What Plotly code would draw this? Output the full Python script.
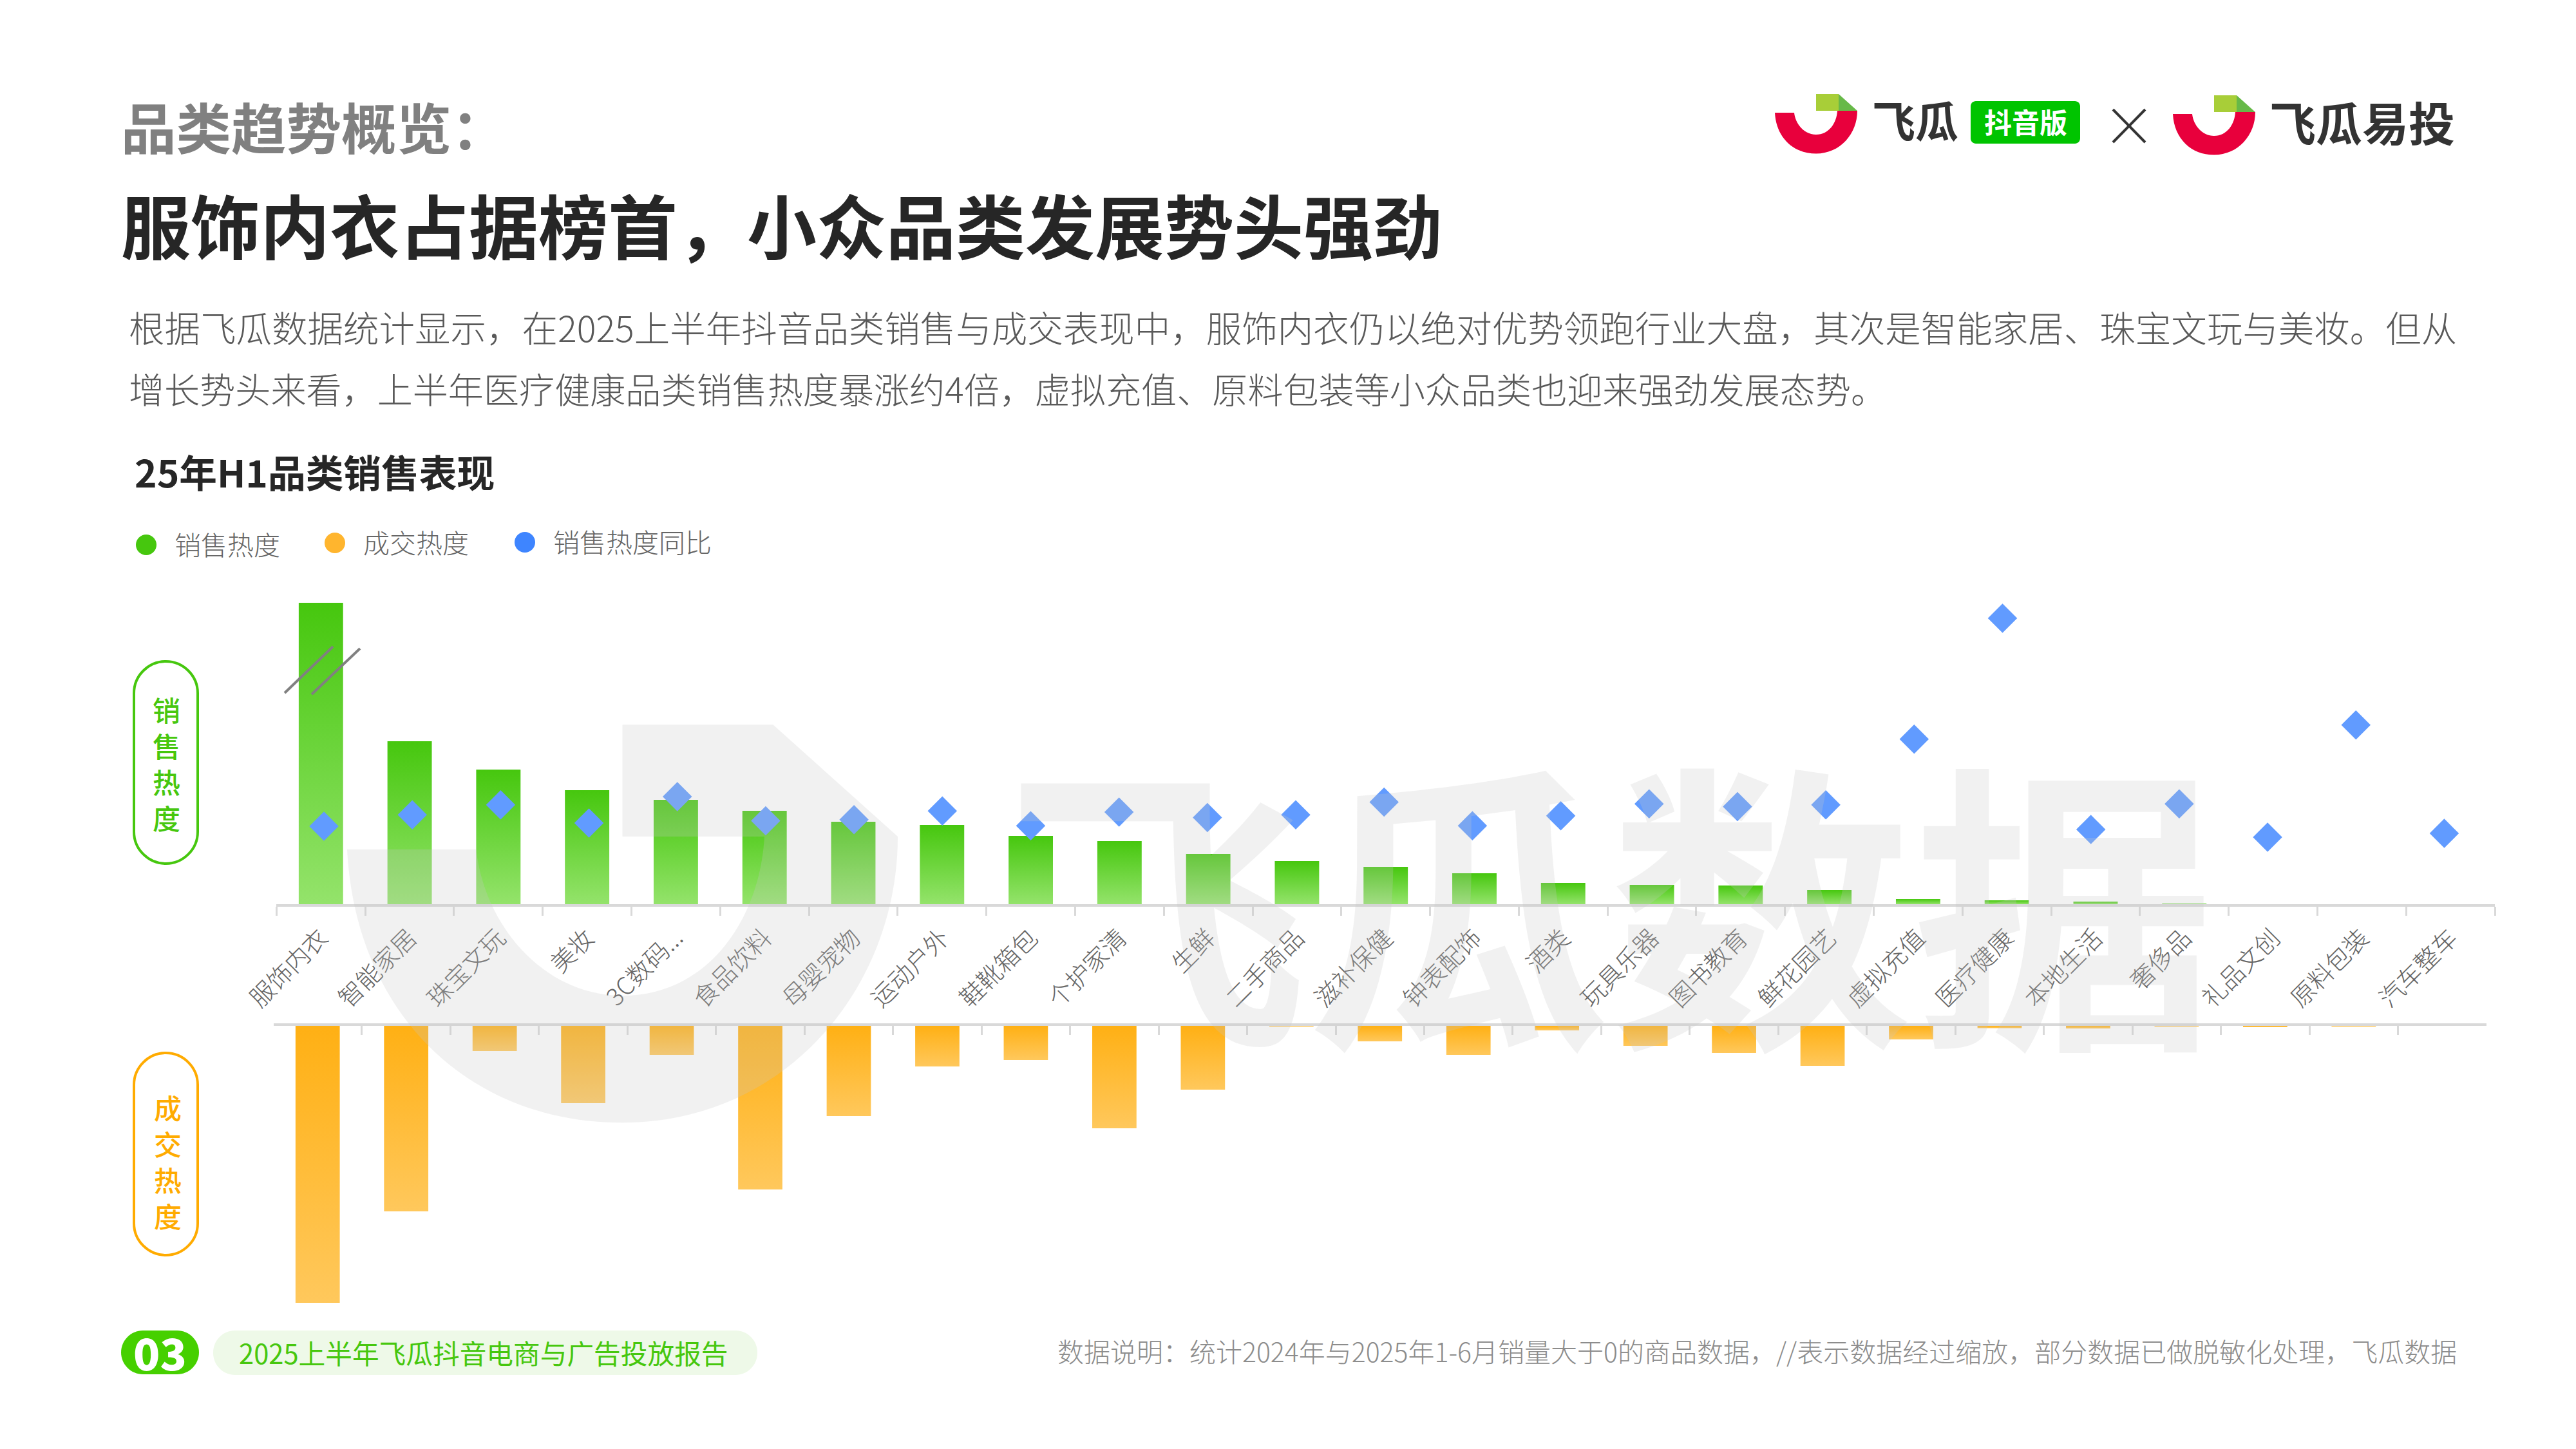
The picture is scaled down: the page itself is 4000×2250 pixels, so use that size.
import plotly.graph_objects as go

W, H = 4000, 2250
FONT = "Noto Sans CJK SC"

categories = ["服饰内衣", "智能家居", "珠宝文玩", "美妆", "3C数码...", "食品饮料", "母婴宠物", "运动户外", "鞋靴箱包",
              "个护家清", "生鲜", "二手商品", "滋补保健", "钟表配饰", "酒类", "玩具乐器", "图书教育", "鲜花园艺",
              "虚拟充值", "医疗健康", "本地生活", "奢侈品", "礼品文创", "原料包装", "汽车整车"]
sales_heat = [468, 253, 209, 177, 162, 145, 128, 123, 106, 98, 78, 67, 58, 48, 33, 30, 29, 22, 8, 6, 4, 1, 0, 0, 0]
deal_heat = [430, 288, 39, 120, 45, 254, 140, 63, 53, 159, 99, 1, 24, 45, 7, 31, 42, 62, 21, 3.5, 4, 0.3, 1.5, 0.7, 0]
sales_yoy = [20, 41, 59, 26, 74, 30, 32, 48, 21, 46, 36, 41, 64, 21, 39, 61, 56, 59, 179, 400, 14, 61, 0, 205, 7]

GREEN, ORANGE, BLUE = "#46C70E", "#FFB014", "#619BFF"


def fx(p):
    return p / W


def fy(p):
    return 1 - p / H


def dom_x(a, b):
    return [a / W, b / W]


def dom_y(top, bottom):
    return [1 - bottom / H, 1 - top / H]


fig = go.Figure()
fig.add_bar(x=categories, y=sales_heat, width=0.5, marker=dict(color=GREEN, line=dict(width=0)),
            xaxis="x", yaxis="y", name="销售热度")
fig.add_bar(x=categories, y=deal_heat, width=0.5, marker=dict(color=ORANGE, line=dict(width=0)),
            xaxis="x2", yaxis="y2", name="成交热度")
fig.add_scatter(x=categories, y=sales_yoy, mode="markers", cliponaxis=False,
                marker=dict(symbol="diamond", size=35, color=BLUE, line=dict(width=0)),
                xaxis="x3", yaxis="y3", name="销售热度同比")

ann = []


def text(s, x, y, size, color, weight=400, anchor="left"):
    ann.append(dict(text=s, xref="paper", yref="paper", x=fx(x), y=fy(y), xanchor=anchor, yanchor="middle",
                    showarrow=False, borderpad=0,
                    font=dict(family=FONT, size=size, color=color, weight=weight)))


shapes = []


def path(points_cmds, fill, line=None, lw=0, layer="above"):
    shapes.append(dict(type="path", xref="paper", yref="paper", path=points_cmds, fillcolor=fill,
                       line=dict(color=line or "rgba(0,0,0,0)", width=lw), layer=layer))


def seq(cmds):
    out = []
    for c in cmds:
        op = c[0]
        coords = c[1:]
        pts = " ".join(f"{fx(coords[i]):.5f},{fy(coords[i + 1]):.5f}" for i in range(0, len(coords), 2))
        out.append(op + " " + pts if coords else op)
    return " ".join(out)


def round_rect(x0, y0, x1, y1, r, fill, line=None, lw=0):
    k = 0.55 * r
    path(seq([("M", x0 + r, y0), ("L", x1 - r, y0), ("C", x1 - r + k, y0, x1, y0 + r - k, x1, y0 + r),
              ("L", x1, y1 - r), ("C", x1, y1 - r + k, x1 - r + k, y1, x1 - r, y1),
              ("L", x0 + r, y1), ("C", x0 + r - k, y1, x0, y1 - r + k, x0, y1 - r),
              ("L", x0, y0 + r), ("C", x0, y0 + r - k, x0 + r - k, y0, x0 + r, y0), ("Z",)]),
         fill, line, lw)


def logo(ox, oy, s, red, sq, tri):
    def m(x, y):
        return ox + x * s, oy + y * s
    path(seq([("M", *m(0, 0)), ("C", *m(2, 38), *m(28, 63.5), *m(64, 63.5)),
              ("C", *m(102, 63.5), *m(128, 32), *m(128, -3)), ("L", *m(97, -3)),
              ("C", *m(96, 16), *m(84, 34), *m(64, 34)), ("C", *m(46, 34), *m(32, 18), *m(30, 0)), ("Z",)]), red)
    path(seq([("M", *m(64, -29)), ("L", *m(99, -29)), ("L", *m(99, -3)), ("L", *m(64, -3)), ("Z",)]), sq)
    path(seq([("M", *m(99, -29)), ("L", *m(128, -3)), ("L", *m(99, -3)), ("Z",)]), tri)


# ---- watermark (sits on top of the marks, translucent)
WM = "rgba(200,200,200,0.25)"
logo(539, 1319, 6.68, WM, WM, WM)
text("飞瓜数据", 2500, 1388, 470, WM, 700, "center")

# ---- header
text("品类趋势概览：", 187, 195, 85.5, "#808080", 700)
text("服饰内衣占据榜首，小众品类发展势头强劲", 187, 347, 108, "#262626", 700)
text("根据飞瓜数据统计显示，在2025上半年抖音品类销售与成交表现中，服饰内衣仍以绝对优势领跑行业大盘，其次是智能家居、珠宝文玩与美妆。但从",
     199, 507, 55.5, "#595959", 300)
text("增长势头来看，上半年医疗健康品类销售热度暴涨约4倍，虚拟充值、原料包装等小众品类也迎来强劲发展态势。",
     199, 602, 55.1, "#595959", 300)
text("25年H1品类销售表现", 208, 731, 58.7, "#262626", 700)

# ---- logos
logo(2756, 175, 1, "#E8003C", "#A8CE38", "#67B948")
logo(3374, 177, 1, "#E8003C", "#A8CE38", "#67B948")
text("飞瓜", 2906, 185, 67, "#333333", 700)
round_rect(3060, 157, 3230, 223, 8, "#00C400")
text("抖音版", 3145, 188, 43, "#FFFFFF", 700, "center")
for a, b, c, d in [(3281, 170, 3331, 221), (3331, 170, 3281, 221)]:
    shapes.append(dict(type="line", xref="paper", yref="paper", x0=fx(a), y0=fy(b), x1=fx(c), y1=fy(d),
                       line=dict(color="#333333", width=4)))
text("飞瓜易投", 3523, 187, 72, "#333333", 700)

# ---- legend
for cx, cy, col, lab, tx in [(227, 846, "#46C70E", "销售热度", 270), (520, 843, "#FFB52E", "成交热度", 563),
                             (815, 842, "#3E85FF", "销售热度同比", 858)]:
    shapes.append(dict(type="circle", xref="paper", yref="paper", x0=fx(cx - 16), x1=fx(cx + 16),
                       y0=fy(cy + 16), y1=fy(cy - 16), fillcolor=col, line=dict(width=0)))
    text(lab, tx, cy - 2, 41, "#666666", 300)

# ---- side pills
round_rect(208, 1027, 307, 1341, 49.5, "rgba(255,255,255,0)", "#46C70E", 4)
text("<br>".join("销售热度"), 258, 1185, 43, "#46C70E", 500, "center")
round_rect(208, 1635, 307, 1949, 49.5, "rgba(255,255,255,0)", "#FFAB00", 4)
text("<br>".join("成交热度"), 260, 1803, 43, "#FFAB00", 500, "center")

# ---- axis break marks
for a, b, c, d in [(442, 1076, 517, 1004), (484, 1078, 559, 1007)]:
    shapes.append(dict(type="line", xref="paper", yref="paper", x0=fx(a), y0=fy(b), x1=fx(c), y1=fy(d),
                       line=dict(color="#808080", width=4)))

# ---- footer
round_rect(188, 2066, 309, 2134, 34, "#46D000")
text("03", 248, 2098, 68, "#FFFFFF", 900, "center")
round_rect(331, 2066, 1176, 2135, 34, "#EEF9E8")
text("2025上半年飞瓜抖音电商与广告投放报告", 370, 2100, 41.7, "#46C70E", 400)
text("数据说明：统计2024年与2025年1-6月销量大于0的商品数据，//表示数据经过缩放，部分数据已做脱敏化处理，飞瓜数据",
     3816, 2097, 41, "#8C8C8C", 300, "right")

axis_common = dict(showgrid=False, zeroline=False, fixedrange=True)
band = [-0.5, len(categories) - 0.5]
fig.update_layout(
    width=W, height=H, margin=dict(l=0, r=0, t=0, b=0, pad=0, autoexpand=False), paper_bgcolor="white",
    plot_bgcolor="rgba(0,0,0,0)", showlegend=False, hovermode=False, bargap=0.5,
    font=dict(family=FONT),
    annotations=ann, shapes=shapes,
    xaxis=dict(domain=dom_x(429.4, 3874), anchor="y", type="category", range=band, tickson="boundaries", ticks="outside",
               ticklen=14, tickwidth=3, tickcolor="#D9D9D9", showline=True, linecolor="#D9D9D9", linewidth=4,
               tickangle=-45, tickfont=dict(family=FONT, size=38, color="#666666", weight=300),
               ticklabelstandoff=11, **axis_common),
    yaxis=dict(domain=dom_y(936, 1404), range=[0, 468], anchor="x", visible=False, **axis_common),
    xaxis2=dict(domain=dom_x(424.5, 3861), anchor="y2", side="top", type="category", range=band, tickson="boundaries",
                ticks="inside", ticklen=14, tickwidth=3, tickcolor="#D9D9D9", showline=True, linecolor="#D9D9D9",
                linewidth=4, showticklabels=False, **axis_common),
    yaxis2=dict(domain=dom_y(1593, 2024), range=[431, 0], anchor="x2", visible=False, **axis_common),
    xaxis3=dict(domain=dom_x(434.4, 3864), anchor="y3", type="category", range=band, visible=False, **axis_common),
    yaxis3=dict(domain=dom_y(937, 1405.5), range=[-124.1, 427.06], anchor="x3", visible=False, **axis_common),
)

post = """
var gd=document.getElementById('{plot_id}');
document.body.style.margin='0';
function paint(){
  var svg=gd.querySelector('svg.main-svg');
  if(!svg)return;
  if(!document.getElementById('gGreen')){
    var ns='http://www.w3.org/2000/svg';
    var defs=document.createElementNS(ns,'defs');
    [['gGreen','#46C70E','#94E36B'],['gOrange','#FFB014','#FFC85C']].forEach(function(g){
      var lg=document.createElementNS(ns,'linearGradient');
      lg.setAttribute('id',g[0]);lg.setAttribute('x1','0');lg.setAttribute('y1','0');lg.setAttribute('x2','0');lg.setAttribute('y2','1');
      [[0,g[1]],[1,g[2]]].forEach(function(s){
        var st=document.createElementNS(ns,'stop');st.setAttribute('offset',s[0]);st.setAttribute('stop-color',s[1]);lg.appendChild(st);
      });
      defs.appendChild(lg);
    });
    svg.insertBefore(defs,svg.firstChild);
  }
  var tr=gd.querySelectorAll('.barlayer .trace');
  tr.forEach(function(t,i){
    t.querySelectorAll('path').forEach(function(p){p.style.setProperty('fill','url(#'+(i==0?'gGreen':'gOrange')+')');});
  });
}
paint();gd.on('plotly_afterplot',paint);setTimeout(paint,200);
"""
fig.write_html("out.html", post_script=post, config={"displayModeBar": False, "responsive": False})
